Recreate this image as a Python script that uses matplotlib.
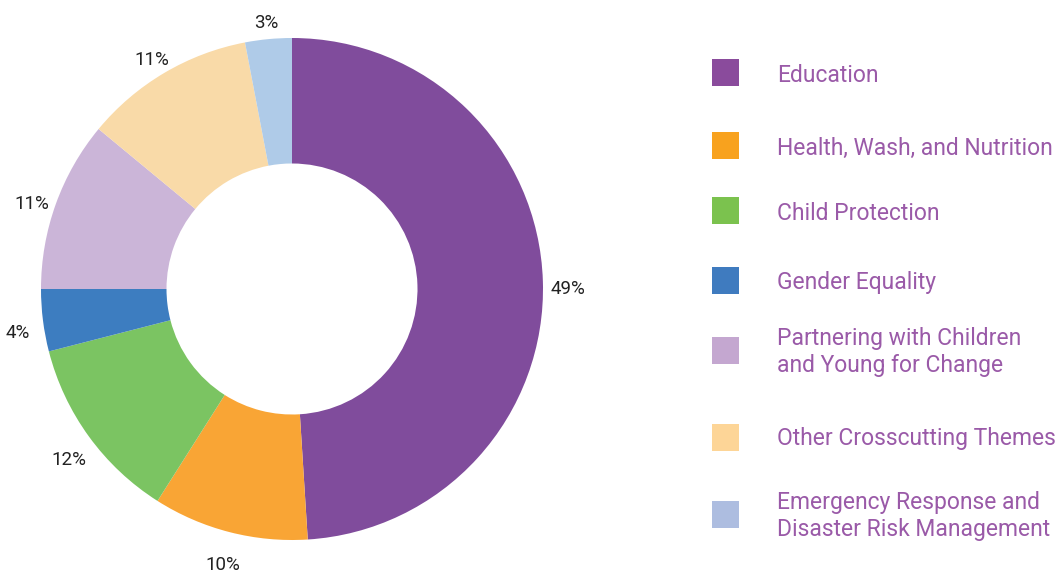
import matplotlib.pyplot as plt
from matplotlib.patches import Rectangle

plt.rcParams['font.family'] = ['Roboto', 'DejaVu Sans']

# Share of funding by thematic area (percent)
categories = ['Education', 'Health, Wash, and Nutrition', 'Child Protection',
              'Gender Equality', 'Partnering with Children\nand Young for Change',
              'Other Crosscutting Themes',
              'Emergency Response and\nDisaster Risk Management']
shares = [49, 10, 12, 4, 11, 11, 3]
slice_colors = ['#804c9c', '#f9a535', '#7bc462', '#3d7dc0', '#cbb5d8', '#f9daa8', '#afcbe8']
swatch_colors = ['#8a4b9c', '#f8a21e', '#7bc24e', '#3f7bbf', '#c4a7d0', '#fdd597', '#adbde0']
legend_y = [73, 146, 211, 281, 350, 437, 514]   # pixel rows of the legend entries

W, H = 1063, 575
fig = plt.figure(figsize=(W / 100, H / 100), dpi=100)

# donut: centre (292, 289) px, outer radius 251 px
cx, cy, r = 292, 289, 251
ax = fig.add_axes([(cx - r) / W, (H - cy - r) / H, 2 * r / W, 2 * r / H])
ax.pie(shares, colors=slice_colors, startangle=90, counterclock=False,
       wedgeprops=dict(width=0.5, linewidth=0),
       labels=[f'{s}%' for s in shares], labeldistance=1.1,
       textprops=dict(fontsize=13.5, color='#222222'))
for t in ax.texts:
    t.set_horizontalalignment('center')
    t.set_verticalalignment('top')
ax.set_xlim(-1, 1)
ax.set_ylim(-1, 1)
ax.set_aspect('equal')

# legend drawn by hand so the two-line entries keep their own spacing
for name, col, y in zip(categories, swatch_colors, legend_y):
    fy = 1 - y / H
    fig.add_artist(Rectangle((712 / W, fy - 13.5 / H), 27 / W, 27 / H,
                             transform=fig.transFigure, color=col, lw=0))
    fig.text(777 / W, fy - 2 / H, name, fontsize=16.5, color='#9a5aa8',
             va='center', ha='left', linespacing=1.2)

fig.savefig('out.png', dpi=100)
